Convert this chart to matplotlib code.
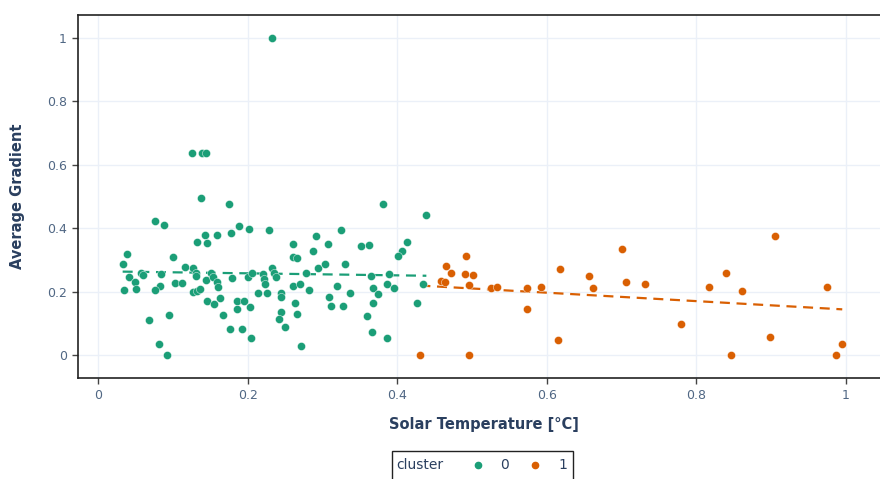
import matplotlib
matplotlib.use('Agg')
import matplotlib.pyplot as plt
from matplotlib.lines import Line2D
from matplotlib.patches import Rectangle

# cluster 0 (green)
x0 = [0.233, 0.126, 0.139, 0.145, 0.138, 0.076, 0.088, 0.143, 0.159, 0.132,
      0.146, 0.039, 0.100, 0.175, 0.178, 0.189, 0.202, 0.228, 0.261, 0.261,
      0.266, 0.291, 0.287, 0.381, 0.439, 0.325, 0.307, 0.351, 0.362, 0.413,
      0.406, 0.401, 0.033, 0.041, 0.050, 0.035, 0.051, 0.058, 0.060, 0.084,
      0.083, 0.076, 0.103, 0.112, 0.116, 0.127, 0.131, 0.131, 0.127, 0.132,
      0.136, 0.144, 0.151, 0.154, 0.159, 0.160, 0.146, 0.155, 0.163, 0.068,
      0.095, 0.082, 0.092, 0.167, 0.179, 0.176, 0.193, 0.186, 0.186, 0.195,
      0.203, 0.204, 0.200, 0.206, 0.214, 0.221, 0.222, 0.223, 0.226, 0.233,
      0.235, 0.238, 0.245, 0.245, 0.245, 0.242, 0.250, 0.263, 0.266, 0.271,
      0.261, 0.270, 0.282, 0.278, 0.294, 0.303, 0.330, 0.320, 0.309, 0.312,
      0.328, 0.337, 0.365, 0.389, 0.368, 0.375, 0.387, 0.396, 0.368, 0.359,
      0.366, 0.386, 0.427, 0.434]
y0 = [1.000, 0.637, 0.637, 0.637, 0.495, 0.423, 0.410, 0.380, 0.378, 0.356,
      0.353, 0.318, 0.310, 0.476, 0.386, 0.407, 0.397, 0.394, 0.350, 0.310,
      0.306, 0.376, 0.328, 0.476, 0.442, 0.394, 0.350, 0.344, 0.347, 0.356,
      0.328, 0.312, 0.288, 0.246, 0.231, 0.205, 0.208, 0.260, 0.252, 0.256,
      0.218, 0.205, 0.227, 0.227, 0.278, 0.274, 0.259, 0.249, 0.199, 0.202,
      0.208, 0.237, 0.259, 0.246, 0.230, 0.215, 0.170, 0.161, 0.180, 0.110,
      0.126, 0.035, 0.000, 0.126, 0.243, 0.082, 0.082, 0.170, 0.145, 0.170,
      0.151, 0.054, 0.246, 0.259, 0.196, 0.256, 0.240, 0.224, 0.196, 0.274,
      0.259, 0.246, 0.196, 0.183, 0.136, 0.114, 0.088, 0.164, 0.129, 0.028,
      0.218, 0.224, 0.205, 0.259, 0.274, 0.287, 0.286, 0.219, 0.184, 0.155,
      0.155, 0.197, 0.249, 0.256, 0.210, 0.191, 0.223, 0.210, 0.163, 0.124,
      0.073, 0.055, 0.165, 0.223]

# cluster 1 (orange)
x1 = [0.492, 0.465, 0.472, 0.491, 0.501, 0.459, 0.464, 0.496, 0.526, 0.534,
      0.573, 0.592, 0.573, 0.618, 0.615, 0.431, 0.496, 0.657, 0.662, 0.701,
      0.706, 0.731, 0.780, 0.817, 0.839, 0.861, 0.846, 0.899, 0.905, 0.975,
      0.987, 0.995]
y1 = [0.312, 0.281, 0.258, 0.256, 0.253, 0.233, 0.231, 0.220, 0.211, 0.214,
      0.211, 0.215, 0.144, 0.271, 0.047, 0.000, 0.000, 0.249, 0.211, 0.335,
      0.229, 0.224, 0.099, 0.215, 0.259, 0.201, 0.000, 0.057, 0.376, 0.213,
      0.000, 0.034]

# trend lines (ols)
trend0_x = [0.033, 0.439]
trend0_y = [0.263, 0.250]
trend1_x = [0.431, 0.995]
trend1_y = [0.219, 0.144]

ticks = [0, 0.2, 0.4, 0.6, 0.8, 1]
tick_labels = ['0', '0.2', '0.4', '0.6', '0.8', '1']

GREEN = '#1B9E77'
ORANGE = '#D95F02'
TITLE_C = '#2a3f5f'
TICK_C = '#506784'

W, H = 880, 479
fig = plt.figure(figsize=(W / 100, H / 100), dpi=100)
ax = fig.add_axes([78 / W, 1 - 378 / H, (889 - 78) / W, (378 - 15) / H])

ax.scatter(x0, y0, s=34, color=GREEN, edgecolors='white', linewidths=0.3, zorder=3)
ax.scatter(x1, y1, s=34, color=ORANGE, edgecolors='white', linewidths=0.3, zorder=3)
ax.plot(trend0_x, trend0_y, color=GREEN, lw=1.6, dashes=(4.5, 3), zorder=2)
ax.plot(trend1_x, trend1_y, color=ORANGE, lw=1.6, dashes=(4.5, 3), zorder=2)

ax.set_xlim(-0.0267, 1.0575)
ax.set_ylim(-0.0726, 1.0726)
ax.set_xticks(ticks)
ax.set_xticklabels(tick_labels)
ax.set_yticks(ticks)
ax.set_yticklabels(tick_labels)
ax.grid(True, color='#EBF0F8', lw=1)
ax.set_axisbelow(True)
ax.tick_params(axis='both', direction='out', length=4, width=1, color='#444444',
               labelcolor=TICK_C, labelsize=9, pad=4)
for s in ax.spines.values():
    s.set_color('#222222')
    s.set_linewidth(1.2)
ax.spines['right'].set_visible(False)

ax.set_xlabel('Solar Temperature [°C]', fontsize=10.5, fontweight='bold', color=TITLE_C, labelpad=11)
ax.set_ylabel('Average Gradient', fontsize=10.5, fontweight='bold', color=TITLE_C, labelpad=16)

# horizontal legend at the bottom, plotly style
fig.add_artist(Rectangle((392 / W, -0.05), 181 / W, 0.05 + 1 - 451 / H, transform=fig.transFigure,
                         fill=False, edgecolor='#222222', lw=1))
ly = 1 - 465 / H
fig.text(396 / W, ly, 'cluster', fontsize=10, color=TITLE_C, va='center', ha='left')
fig.add_artist(Line2D([478 / W], [ly], transform=fig.transFigure, marker='o', ms=4.5,
                      color=GREEN, lw=0))
fig.text(500 / W, ly, '0', fontsize=10, color=TITLE_C, va='center', ha='left')
fig.add_artist(Line2D([535 / W], [ly], transform=fig.transFigure, marker='o', ms=4.5,
                      color=ORANGE, lw=0))
fig.text(558 / W, ly, '1', fontsize=10, color=TITLE_C, va='center', ha='left')

fig.savefig('out.png', dpi=100, facecolor='white')
